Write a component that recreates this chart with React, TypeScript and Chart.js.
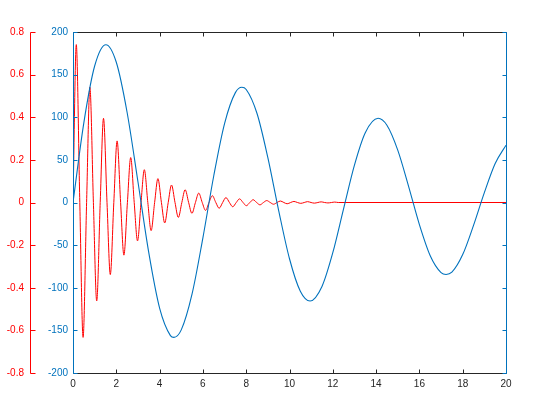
import React, { useEffect, useRef } from "react";
import { Chart, registerables } from "chart.js";

Chart.register(...registerables);

// Tick values
const xTicks = [0, 2, 4, 6, 8, 10, 12, 14, 16, 18, 20];
const blueTicks = [-200, -150, -100, -50, 0, 50, 100, 150, 200];
const redTicks = [-0.8, -0.6, -0.4, -0.2, 0, 0.2, 0.4, 0.6, 0.8];

// Blue series (-200..200)
const blueX = [
  0, 0.5, 1, 1.52, 2, 2.5, 3, 3.5, 4, 4.5, 4.66, 5, 5.5, 6, 6.5, 7, 7.5, 7.8, 8,
  8.5, 9, 9.5, 10, 10.5, 10.95, 11.5, 12, 12.5, 13, 13.5, 14.09, 14.5, 15, 15.5,
  16, 16.5, 17, 17.23, 17.5, 18, 18.5, 19, 19.5, 20,
];
const blueY = [
  0, 93.5, 160.1, 185.1, 164.5, 105.6, 24.3, -58.9, -123.9, -156.1, -158.2,
  -149.4, -107.2, -41.4, 31.1, 92.6, 128.9, 135.2, 132.6, 104.4, 52.6, -9.4,
  -66.0, -104.1, -115.6, -98.5, -58.9, -7.1, 43.9, 81.9, 98.8, 90.6, 61.4, 19.0,
  -25.9, -62.4, -82.2, -84.4, -81.7, -61.1, -26.8, 11.6, 45.7, 67.2,
];

// Red series (-0.8..0.8): zero crossings and peaks
const redX = [
  0, 0.152, 0.314, 0.466, 0.628, 0.78, 0.942, 1.095, 1.257, 1.409, 1.571, 1.723,
  1.885, 2.037, 2.199, 2.351, 2.513, 2.665, 2.827, 2.98, 3.142, 3.294, 3.456,
  3.608, 3.77, 3.922, 4.084, 4.236, 4.398, 4.55, 4.712, 4.865, 5.027, 5.179,
  5.341, 5.493, 5.655, 5.807, 5.969, 6.121, 6.283, 6.435, 6.597, 6.75, 6.912,
  7.064, 7.226, 7.378, 7.54, 7.692, 7.854, 8.006, 8.168, 8.32, 8.482, 8.635,
  8.796, 8.949, 9.111, 9.263, 9.425, 9.577, 9.739, 9.891, 10.053, 10.205,
  10.367, 10.52, 10.681, 10.834, 10.996, 11.148, 11.31, 11.462, 11.624, 11.776,
  11.938, 12.09, 12.252, 20,
];
const redY = [
  0, 0.741, 0, -0.633, 0, 0.541, 0, -0.462, 0, 0.395, 0, -0.338, 0, 0.289, 0,
  -0.247, 0, 0.211, 0, -0.18, 0, 0.154, 0, -0.132, 0, 0.112, 0, -0.096, 0,
  0.082, 0, -0.07, 0, 0.06, 0, -0.051, 0, 0.044, 0, -0.037, 0, 0.032, 0, -0.027,
  0, 0.023, 0, -0.02, 0, 0.017, 0, -0.015, 0, 0.013, 0, -0.011, 0, 0.009, 0,
  -0.008, 0, 0.007, 0, -0.006, 0, 0.005, 0, -0.004, 0, 0.004, 0, -0.003, 0,
  0.003, 0, -0.002, 0, 0.002, 0, 0,
];

const BLUE = "#0072BD";
const RED = "#FF0000";
const AXIS = "#262626";
const FONT = { family: "'Liberation Sans', Arial, Helvetica, sans-serif", size: 10 };
const TICK_LEN = 4;

const axesPlugin = {
  id: "matlabAxes",
  afterDraw(chart: any) {
    const c = chart.ctx as CanvasRenderingContext2D;
    const a = chart.chartArea;
    const xs = chart.scales.x;
    const yb = chart.scales.yBlue;
    const yr = chart.scales.yRed;
    const L = Math.round(a.left) + 0.5;
    const R = Math.round(a.right) + 0.5;
    const T = Math.round(a.top) + 0.5;
    const B = Math.round(a.bottom) + 0.5;
    const RL = Math.round(yr.right) + 0.5;
    c.save();
    c.lineWidth = 1;
    c.strokeStyle = AXIS;
    c.beginPath();
    c.moveTo(L, T);
    c.lineTo(R, T);
    c.moveTo(L, B);
    c.lineTo(R, B);
    for (const v of xTicks) {
      const px = Math.round(xs.getPixelForValue(v)) + 0.5;
      c.moveTo(px, B);
      c.lineTo(px, B - TICK_LEN);
      c.moveTo(px, T);
      c.lineTo(px, T + TICK_LEN);
    }
    c.stroke();
    c.strokeStyle = BLUE;
    c.beginPath();
    c.moveTo(L, T);
    c.lineTo(L, B);
    c.moveTo(R, T);
    c.lineTo(R, B);
    for (const v of blueTicks) {
      const py = Math.round(yb.getPixelForValue(v)) + 0.5;
      c.moveTo(L, py);
      c.lineTo(L + TICK_LEN, py);
      c.moveTo(R, py);
      c.lineTo(R - TICK_LEN, py);
    }
    c.stroke();
    c.strokeStyle = RED;
    c.beginPath();
    c.moveTo(RL, T);
    c.lineTo(RL, B);
    for (const v of redTicks) {
      const py = Math.round(yr.getPixelForValue(v)) + 0.5;
      c.moveTo(RL, py);
      c.lineTo(RL + TICK_LEN + 1, py);
    }
    c.stroke();
    c.restore();
  },
};

export default function App() {
  const ref = useRef<HTMLCanvasElement>(null);
  useEffect(() => {
    if (!ref.current) return;
    const blueData = blueX.map((x, i) => ({ x, y: blueY[i] }));
    const redData = redX.map((x, i) => ({ x, y: redY[i] }));
    const chart = new Chart(ref.current, {
      type: "line",
      data: {
        datasets: [
          {
            data: blueData,
            yAxisID: "yBlue",
            borderColor: BLUE,
            borderWidth: 1.1,
            pointRadius: 0,
            cubicInterpolationMode: "monotone",
            fill: false,
          },
          {
            data: redData,
            yAxisID: "yRed",
            borderColor: RED,
            borderWidth: 1,
            pointRadius: 0,
            cubicInterpolationMode: "monotone",
            fill: false,
          },
        ],
      },
      options: {
        animation: false,
        responsive: false,
        devicePixelRatio: 1,
        layout: { padding: { left: 0, right: 54, top: 32, bottom: 27 } },
        plugins: { legend: { display: false }, tooltip: { enabled: false } },
        events: [],
        scales: {
          x: {
            type: "linear",
            min: 0,
            max: 20,
            afterBuildTicks: (s: any) => {
              s.ticks = xTicks.map((value) => ({ value }));
            },
            afterFit: (s: any) => {
              s.height = 20;
            },
            grid: { display: false, drawTicks: false },
            border: { display: false },
            ticks: { color: AXIS, font: FONT, padding: 5, maxRotation: 0, autoSkip: false },
          },
          yBlue: {
            type: "linear",
            position: "left",
            min: -200,
            max: 200,
            afterBuildTicks: (s: any) => {
              s.ticks = blueTicks.map((value) => ({ value }));
            },
            afterFit: (s: any) => {
              s.width = 43;
            },
            grid: { display: false, drawTicks: false },
            border: { display: false },
            ticks: {
              color: BLUE,
              font: FONT,
              padding: 5,
              autoSkip: false,
              callback: (v: any) => String(v),
            },
          },
          yRed: {
            type: "linear",
            position: "left",
            min: -0.8,
            max: 0.8,
            afterBuildTicks: (s: any) => {
              s.ticks = redTicks.map((value) => ({ value }));
            },
            afterFit: (s: any) => {
              s.width = 30;
            },
            grid: { display: false, drawTicks: false },
            border: { display: false },
            ticks: {
              color: RED,
              font: FONT,
              padding: 6,
              autoSkip: false,
              callback: (v: any) => String(Math.round(Number(v) * 10) / 10),
            },
          },
        },
      },
      plugins: [axesPlugin],
    } as any);
    return () => chart.destroy();
  }, []);
  return (
    <div style={{ position: "fixed", left: 0, top: 0, width: 560, height: 420, background: "#fff" }}>
      <canvas ref={ref} width={560} height={420} style={{ width: 560, height: 420 }} />
    </div>
  );
}
